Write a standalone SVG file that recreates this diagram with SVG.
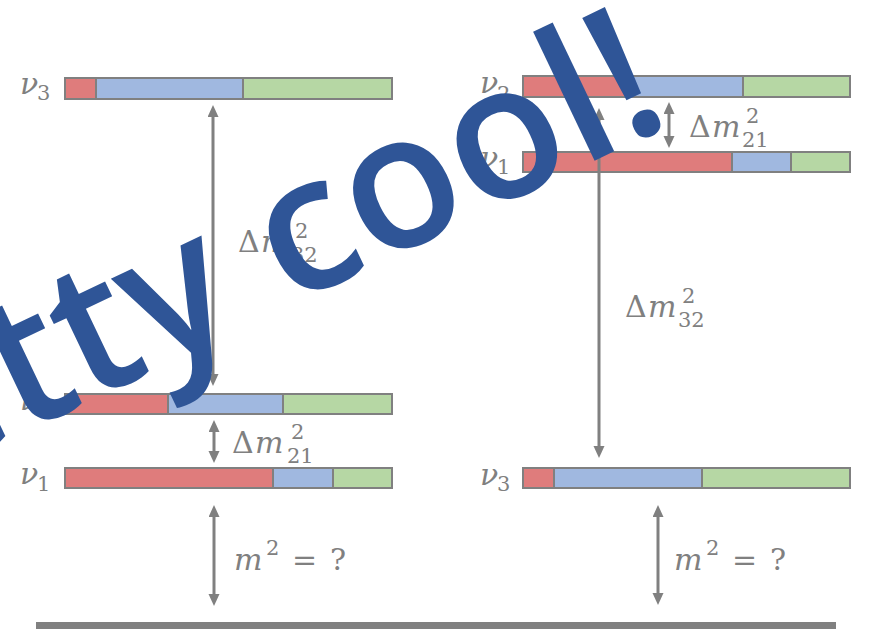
<svg xmlns="http://www.w3.org/2000/svg" width="871" height="635" viewBox="0 0 871 635">
<style>
.r{fill:#DF7C7C;stroke:#808080;stroke-width:2}
.b{fill:#A0B8E0;stroke:#808080;stroke-width:2}
.g{fill:#B6D7A4;stroke:#808080;stroke-width:2}
.lbl{font-family:"DejaVu Serif",serif;fill:#808080;font-size:30px}
.it{font-style:italic}
.sc{font-size:21px}
.arr{stroke:#808080;stroke-width:3;fill:none;marker-start:url(#ah);marker-end:url(#ah)}
.wm{font-family:"Open Sans",sans-serif;font-weight:600;font-size:188px;fill:#2F5597}
</style>
<defs>
<marker id="ah" markerUnits="userSpaceOnUse" markerWidth="13" markerHeight="12" refX="6" refY="5.5" orient="auto-start-reverse">
<path d="M0,0 L12,5.5 L0,11 z" fill="#808080"/>
</marker>
</defs>
<rect width="871" height="635" fill="#ffffff"/>

<g id="left-nu3">
<rect class="r" x="65" y="78" width="31" height="21"/>
<rect class="b" x="96" y="78" width="147" height="21"/>
<rect class="g" x="243" y="78" width="149" height="21"/>
<text class="lbl"><tspan class="it" x="20" y="94">ν</tspan><tspan class="sc" x="37" y="100">3</tspan></text>
</g>
<g id="left-nu2">
<rect class="r" x="65" y="394" width="103" height="20"/>
<rect class="b" x="168" y="394" width="115" height="20"/>
<rect class="g" x="283" y="394" width="109" height="20"/>
<text class="lbl"><tspan class="it" x="20" y="410">ν</tspan><tspan class="sc" x="37" y="417">2</tspan></text>
</g>
<g id="left-nu1">
<rect class="r" x="65" y="468" width="208" height="20"/>
<rect class="b" x="273" y="468" width="60" height="20"/>
<rect class="g" x="333" y="468" width="59" height="20"/>
<text class="lbl"><tspan class="it" x="20" y="484">ν</tspan><tspan class="sc" x="37" y="491">1</tspan></text>
</g>
<g id="right-nu2">
<rect class="r" x="523" y="76" width="104" height="21"/>
<rect class="b" x="627" y="76" width="116" height="21"/>
<rect class="g" x="743" y="76" width="107" height="21"/>
<text class="lbl"><tspan class="it" x="480" y="93">ν</tspan><tspan class="sc" x="497" y="101">2</tspan></text>
</g>
<g id="right-nu1">
<rect class="r" x="523" y="152" width="209" height="20"/>
<rect class="b" x="732" y="152" width="59" height="20"/>
<rect class="g" x="791" y="152" width="59" height="20"/>
<text class="lbl"><tspan class="it" x="480" y="168">ν</tspan><tspan class="sc" x="497" y="174">1</tspan></text>
</g>
<g id="right-nu3">
<rect class="r" x="523" y="468" width="31" height="20"/>
<rect class="b" x="554" y="468" width="148" height="20"/>
<rect class="g" x="702" y="468" width="148" height="20"/>
<text class="lbl"><tspan class="it" x="480" y="485">ν</tspan><tspan class="sc" x="497" y="491">3</tspan></text>
</g>

<g id="ground">
<rect x="36" y="622" width="800" height="7" fill="#808080"/>
</g>

<g id="connectors">
<path class="arr" d="M213,111 V380"/>
<path class="arr" d="M214,426 V457"/>
<path class="arr" d="M214,511 V600"/>
<path class="arr" d="M599,114 V452"/>
<path class="arr" d="M669,108 V142"/>
<path class="arr" d="M658,511 V599"/>
</g>

<g id="labels">
<text class="lbl"><tspan x="238" y="252">Δ</tspan><tspan class="it" x="261" y="252">m</tspan><tspan class="sc" x="295" y="238">2</tspan><tspan class="sc" x="291" y="262">32</tspan></text>
<text class="lbl"><tspan x="625" y="317">Δ</tspan><tspan class="it" x="648" y="317">m</tspan><tspan class="sc" x="682" y="303">2</tspan><tspan class="sc" x="678" y="327">32</tspan></text>
<text class="lbl"><tspan x="689" y="137">Δ</tspan><tspan class="it" x="712" y="137">m</tspan><tspan class="sc" x="746" y="123">2</tspan><tspan class="sc" x="742" y="147">21</tspan></text>
<text class="lbl"><tspan x="232" y="453">Δ</tspan><tspan class="it" x="255" y="453">m</tspan><tspan class="sc" x="291" y="439">2</tspan><tspan class="sc" x="287" y="463">21</tspan></text>
<text class="lbl"><tspan class="it" x="234" y="570">m</tspan><tspan class="sc" x="266" y="555">2</tspan><tspan x="292" y="570">=</tspan><tspan x="330" y="570">?</tspan></text>
<text class="lbl"><tspan class="it" x="674" y="570">m</tspan><tspan class="sc" x="706" y="555">2</tspan><tspan x="732" y="570">=</tspan><tspan x="770" y="570">?</tspan></text>
</g>

<g id="overlay">
<text class="wm" transform="translate(598,159) rotate(-25.5)" x="85" y="0" text-anchor="end">Pretty cool!</text>
</g>
</svg>
